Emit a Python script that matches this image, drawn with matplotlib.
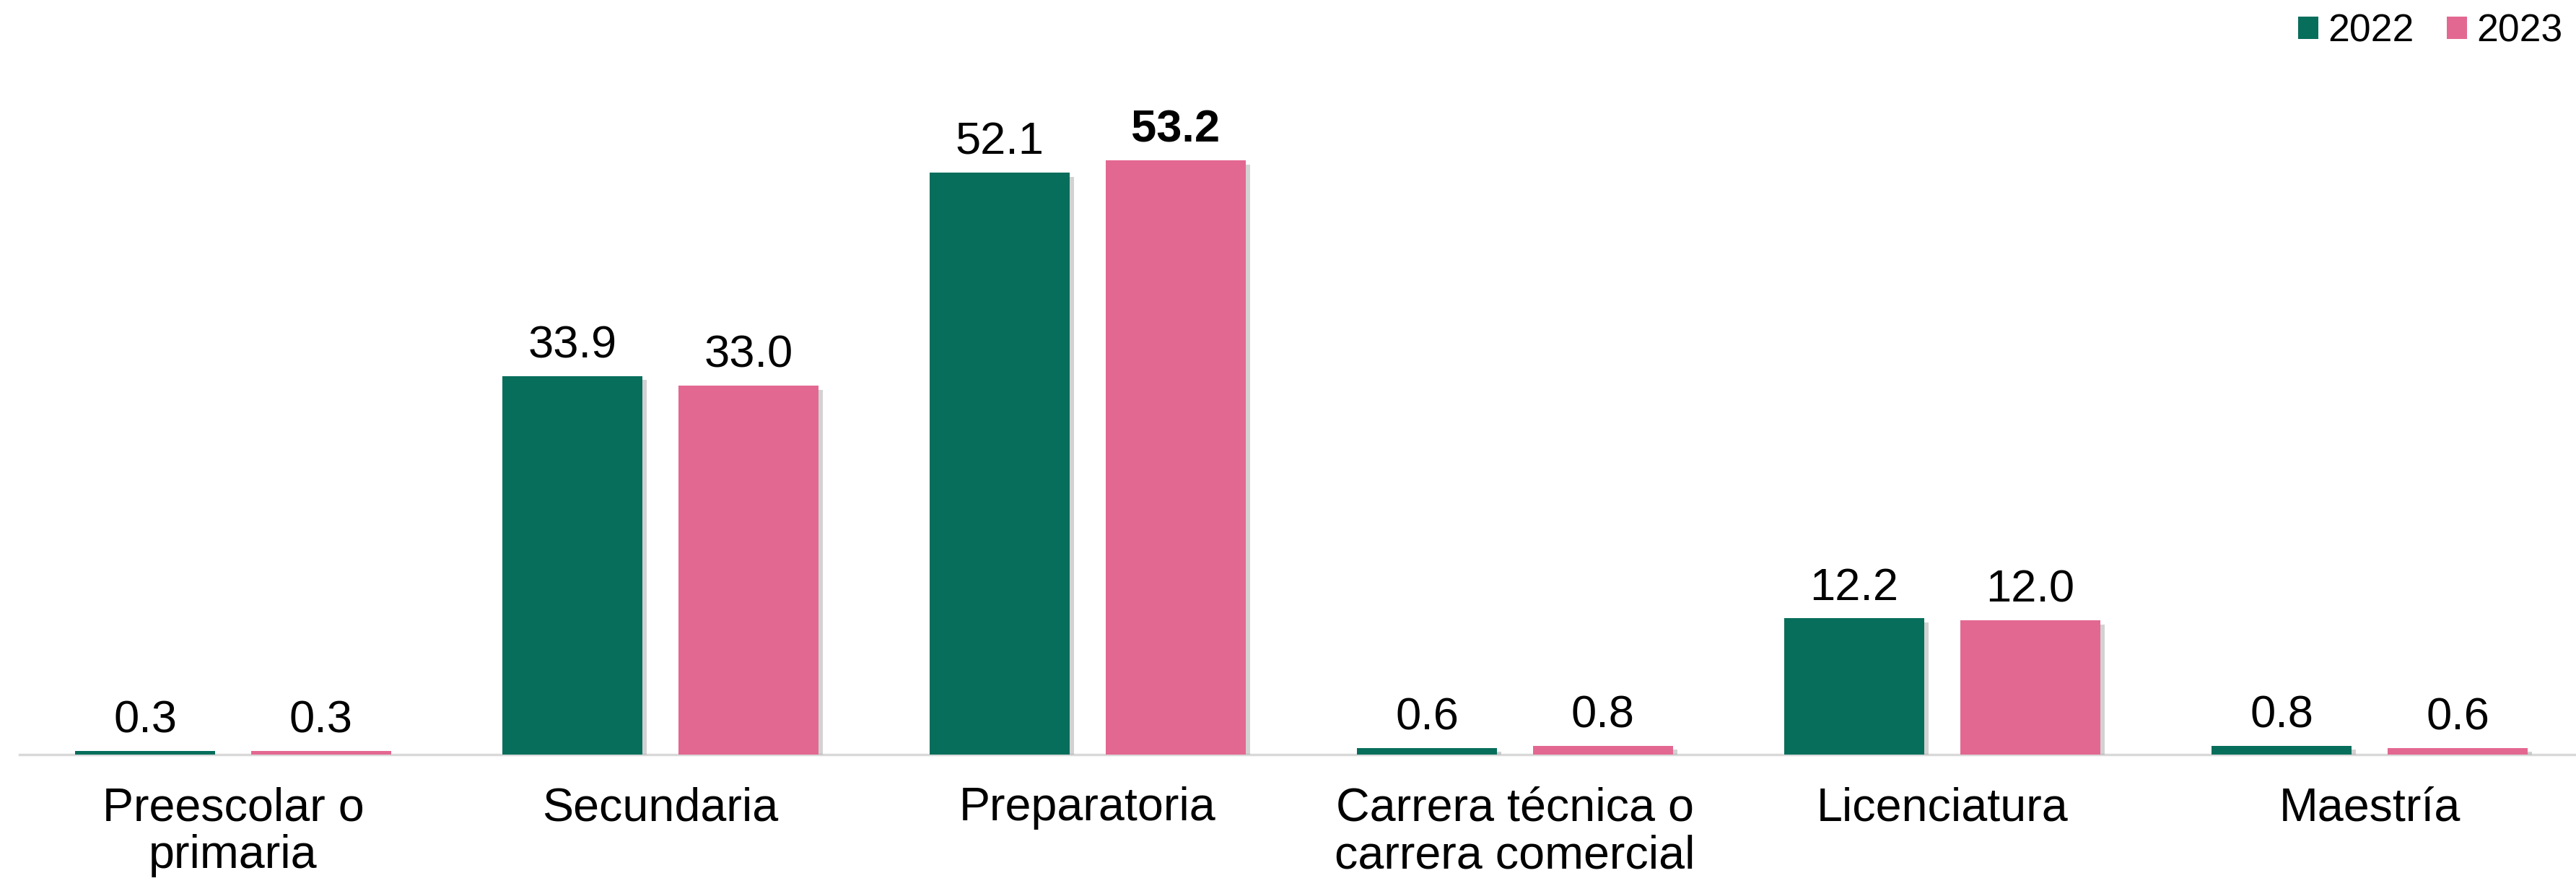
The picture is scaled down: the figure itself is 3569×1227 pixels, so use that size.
import matplotlib
matplotlib.use("Agg")
import matplotlib.pyplot as plt
import matplotlib.patheffects as pe
from matplotlib.patches import Patch
import numpy as np

plt.rcParams["font.family"] = ["Liberation Sans", "DejaVu Sans"]

categories = [
    "Preescolar o\nprimaria",
    "Secundaria",
    "Preparatoria",
    "Carrera técnica o\ncarrera comercial",
    "Licenciatura",
    "Maestría",
]
years = ["2022", "2023"]
values_2022 = [0.3, 33.9, 52.1, 0.6, 12.2, 0.8]
values_2023 = [0.3, 33.0, 53.2, 0.8, 12.0, 0.6]
colors = ["#086E5C", "#E36891"]

W, H, DPI = 3569, 1227, 100
fig = plt.figure(figsize=(W / DPI, H / DPI), dpi=DPI)

base_px = 1045
top_px = 100
ax = fig.add_axes([27 / W, (H - base_px) / H, (W - 27) / W, (base_px - top_px) / H])

x = np.arange(len(categories))
width = 0.328
offset = 0.206
shadow = [pe.SimplePatchShadow(offset=(4, -4), shadow_rgbFace="#808080", alpha=0.35), pe.Normal()]

max_val = max(values_2022 + values_2023)
for series, sign, color in ((values_2022, -1, colors[0]), (values_2023, 1, colors[1])):
    bars = ax.bar(x + sign * offset, series, width=width, color=color, zorder=3)
    for bar, val in zip(bars, series):
        bar.set_path_effects(shadow)
        ax.annotate(
            f"{val:.1f}",
            (bar.get_x() + bar.get_width() / 2, bar.get_height()),
            xytext=(0, 9),
            textcoords="offset points",
            ha="center",
            va="bottom",
            fontsize=45.5,
            fontweight="bold" if val == max_val else "normal",
        )

ax.set_xlim(-0.5, 5.483)
ax.set_ylim(0, (base_px - top_px) / 15.47)
ax.set_xticks(x)
ax.set_xticklabels(categories, fontsize=46.5, linespacing=1.12)
ax.tick_params(axis="x", length=0, pad=32)
ax.set_yticks([])
for side in ("left", "right", "top"):
    ax.spines[side].set_visible(False)
ax.spines["bottom"].set_color("#D9D9D9")
ax.spines["bottom"].set_linewidth(2.5)
ax.spines["bottom"].set_zorder(2)

handles = [Patch(facecolor=c, edgecolor="none") for c in colors]
fig.legend(
    handles,
    years,
    loc="upper right",
    bbox_to_anchor=(1.0, 1.0),
    ncol=2,
    frameon=False,
    fontsize=38.5,
    handlelength=0.52,
    handleheight=0.52,
    handletextpad=0.25,
    columnspacing=0.85,
    borderpad=0.2,
    borderaxespad=0.15,
)

fig.savefig("out.png", dpi=DPI)
